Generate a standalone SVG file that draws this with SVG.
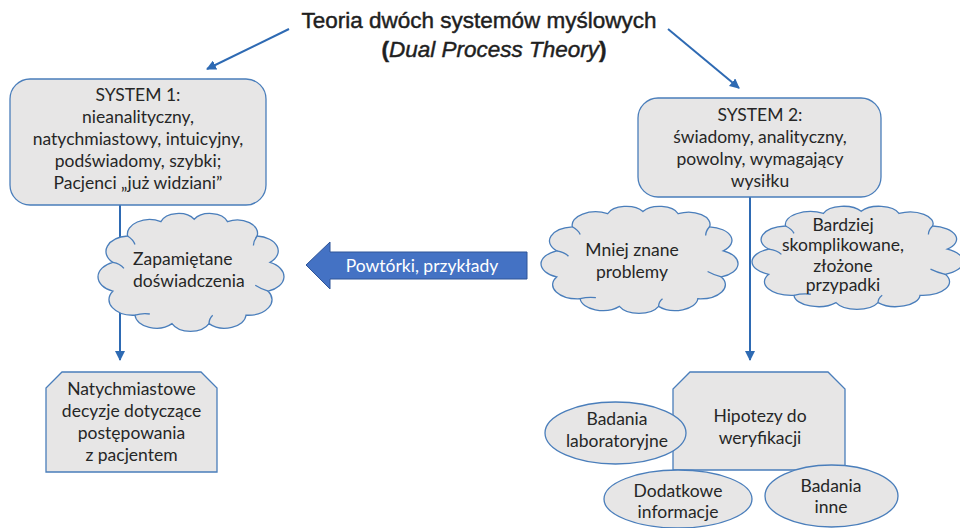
<svg xmlns="http://www.w3.org/2000/svg" xmlns:xlink="http://www.w3.org/1999/xlink" width="960" height="528" viewBox="0 0 960 528">
  <style>
    .shape { fill: #e7e6e6; stroke: #4a7ebb; stroke-width: 1.3; }
    .cloud { fill: #e7e6e6; stroke: #4a7ebb; stroke-width: 1.3; vector-effect: non-scaling-stroke; }
    .cloud-inner { fill: none; stroke: #4a7ebb; stroke-width: 1.3; vector-effect: non-scaling-stroke; }
    .label { font-family: Lato, "Liberation Sans", sans-serif; font-size: 17.5px; fill: #262626; text-anchor: middle; }
    .title { font-family: "Liberation Sans", Arial, sans-serif; font-size: 22.5px; fill: #1f1f1f; stroke: #1f1f1f; stroke-width: 0.45; text-anchor: middle; }
    .link { fill: none; stroke: #2e6ab3; stroke-width: 2; }
  </style>
  <defs>
    <marker id="arrow" viewBox="0 0 10 10" refX="9" refY="5" markerWidth="5" markerHeight="5" orient="auto" markerUnits="strokeWidth">
      <path d="M0,0 L10,5 L0,10 Z" fill="#2e6ab3"/>
    </marker>
    <!-- cloud outline drawn in a 100 x 100 box -->
    <g id="cloud-shape">
      <path class="cloud" d="M8,42 A13,13 0 0 1 16,20 A12,12 0 0 1 34,8 A10,10 0 0 1 52,6 A10,10 0 0 1 70,8 A11,11 0 0 1 86,20 A12.5,12.5 0 0 1 93,42 A13,13 0 0 1 92,66 A13,13 0 0 1 80,86 A11.5,11.5 0 0 1 60,93 A11,11 0 0 1 40,93 A11.5,11.5 0 0 1 20,86 A13,13 0 0 1 8,66 A13,13 0 0 1 8,42 Z"/>
      <path class="cloud-inner" d="M8,42 Q12,43 14,47 M16,20 Q19,23 20,27 M86,20 Q84,24 84,28 M92,66 Q88,64 85,61 M60,93 Q60,89 62,86 M20,86 Q24,84 28,85"/>
    </g>
  </defs>

  <!-- title -->
  <g id="title">
    <text class="title" x="479" y="28">Teoria dwóch systemów myślowych</text>
    <text class="title" x="494" y="57"><tspan font-weight="bold">(</tspan><tspan font-style="italic">Dual Process Theory</tspan><tspan font-weight="bold">)</tspan></text>
  </g>

  <!-- connectors -->
  <g id="connectors">
    <line class="link" x1="289" y1="29" x2="207" y2="69" marker-end="url(#arrow)"/>
    <line class="link" x1="668" y1="29" x2="739" y2="88" marker-end="url(#arrow)"/>
    <line class="link" x1="120" y1="205" x2="120" y2="360" marker-end="url(#arrow)"/>
    <line class="link" x1="750" y1="197" x2="750" y2="360" marker-end="url(#arrow)"/>
  </g>

  <!-- System 1 -->
  <g id="system1">
    <rect class="shape" x="10" y="79" width="256" height="126" rx="20"/>
    <text class="label" x="138" y="101">SYSTEM 1:</text>
    <text class="label" x="138" y="123">nieanalityczny,</text>
    <text class="label" x="138" y="145">natychmiastowy, intuicyjny,</text>
    <text class="label" x="138" y="167">podświadomy, szybki;</text>
    <text class="label" x="138" y="189">Pacjenci „już widziani”</text>
  </g>

  <!-- System 2 -->
  <g id="system2">
    <rect class="shape" x="638" y="98" width="243" height="99" rx="20"/>
    <text class="label" x="760" y="121">SYSTEM 2:</text>
    <text class="label" x="760" y="143">świadomy, analityczny,</text>
    <text class="label" x="760" y="165">powolny, wymagający</text>
    <text class="label" x="760" y="187">wysiłku</text>
  </g>

  <!-- cloud: remembered experience -->
  <g id="cloud-experience">
    <use xlink:href="#cloud-shape" transform="translate(98,212) scale(1.85,1.2)"/>
    <text class="label" x="133" y="265" style="text-anchor:start">Zapamiętane</text>
    <text class="label" x="133" y="287" style="text-anchor:start">doświadczenia</text>
  </g>

  <!-- block arrow -->
  <g id="practice-arrow">
    <polygon points="306,265 330,242 330,252 527,252 527,279 330,279 330,289" fill="#4472c4" stroke="#2f5597" stroke-width="1"/>
    <text class="label" x="422" y="272" style="fill:#ffffff">Powtórki, przykłady</text>
  </g>

  <!-- cloud: less known problems -->
  <g id="cloud-less-known">
    <use xlink:href="#cloud-shape" transform="translate(541,205) scale(1.96,1.09)"/>
    <text class="label" x="632" y="256">Mniej znane</text>
    <text class="label" x="632" y="278">problemy</text>
  </g>

  <!-- cloud: complex cases -->
  <g id="cloud-complex">
    <use xlink:href="#cloud-shape" transform="translate(752,205) scale(2.1,1.05)"/>
    <text class="label" x="843" y="231">Bardziej</text>
    <text class="label" x="843" y="251">skomplikowane,</text>
    <text class="label" x="843" y="272">złożone</text>
    <text class="label" x="843" y="291">przypadki</text>
  </g>

  <!-- immediate decisions -->
  <g id="decisions">
    <polygon class="shape" points="62,372 201,372 217,388 217,472 46,472 46,388"/>
    <text class="label" x="131.5" y="395">Natychmiastowe</text>
    <text class="label" x="131.5" y="417">decyzje dotyczące</text>
    <text class="label" x="131.5" y="439">postępowania</text>
    <text class="label" x="131.5" y="461">z pacjentem</text>
  </g>

  <!-- hypotheses -->
  <g id="hypotheses">
    <polygon class="shape" points="690,372 828,372 845,389 845,470 673,470 673,389"/>
    <text class="label" x="760" y="422">Hipotezy do</text>
    <text class="label" x="760" y="444">weryfikacji</text>
  </g>

  <g id="lab-tests">
    <ellipse class="shape" cx="615.5" cy="433" rx="70.5" ry="31"/>
    <text class="label" x="617" y="425">Badania</text>
    <text class="label" x="617" y="447">laboratoryjne</text>
  </g>

  <g id="extra-info">
    <ellipse class="shape" cx="678" cy="499" rx="74" ry="29"/>
    <text class="label" x="678" y="497">Dodatkowe</text>
    <text class="label" x="678" y="518">informacje</text>
  </g>

  <g id="other-tests">
    <ellipse class="shape" cx="831.5" cy="496" rx="66.5" ry="31"/>
    <text class="label" x="831" y="492">Badania</text>
    <text class="label" x="831" y="513">inne</text>
  </g>
</svg>
